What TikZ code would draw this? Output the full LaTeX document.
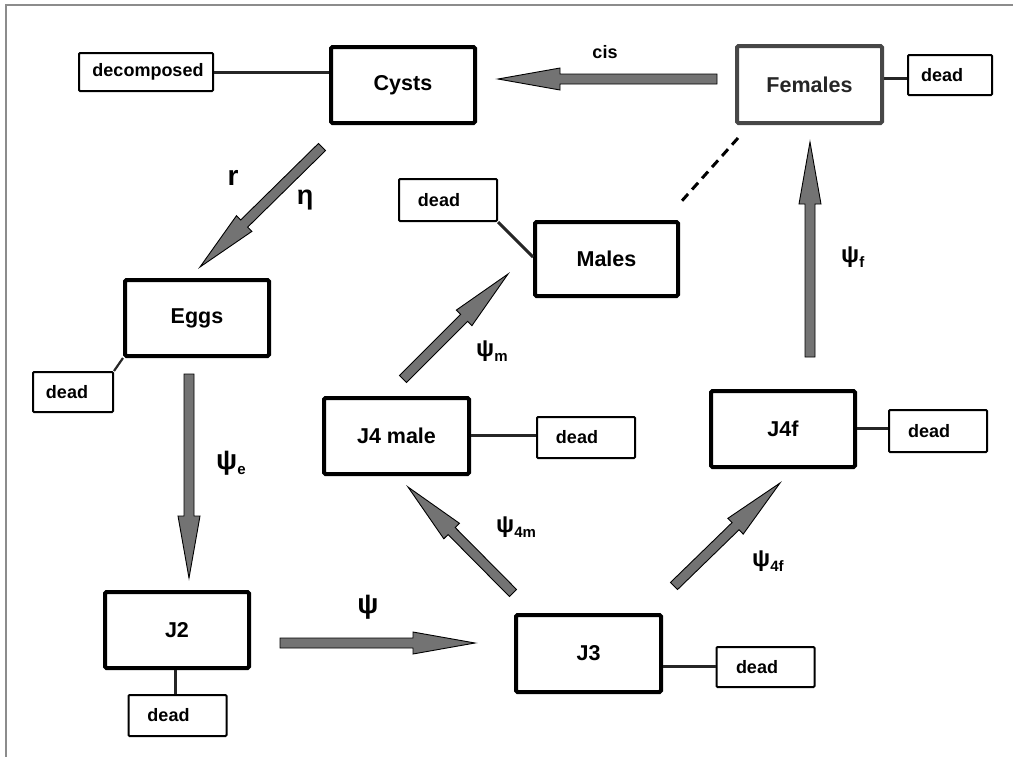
\documentclass[tikz,border=0pt]{standalone}
\usepackage{fontspec}
\setmainfont{Liberation Sans}
\usetikzlibrary{calc}
\tikzset{
  bigbox/.style={draw=black, line width=4pt, rounded corners=1.5pt, inner sep=0pt,
    minimum width=144pt, minimum height=76pt, font=\fontsize{21.5}{24}\selectfont\bfseries},
  smallbox/.style={draw=black, line width=2pt, rounded corners=1pt, inner sep=0pt,
    minimum width=98pt, minimum height=41pt, font=\fontsize{18}{20}\selectfont\bfseries},
  link/.style={draw=black!85, line width=3pt},
  arrowbody/.style={fill=black!55, draw=black, line width=0.9pt, line join=miter},
  lbl/.style={inner sep=0pt, font=\fontsize{24}{26}\selectfont\bfseries},
  biglbl/.style={inner sep=0pt, font=\fontsize{28}{30}\selectfont\bfseries},
}
\newcommand\sbs[1]{\raisebox{-5pt}{\fontsize{15}{15}\selectfont\bfseries #1}}
\newcommand\fatarr[2]{%
  \coordinate (fab) at ($(#2)!62pt!(#1)$);
  \filldraw[arrowbody] ($(#1)!5pt!90:(#2)$) -- ($(fab)!5pt!-90:(#1)$) -- ($(fab)!11pt!-90:(#1)$) -- (#2)
    -- ($(fab)!11pt!90:(#1)$) -- ($(fab)!5pt!90:(#1)$) -- ($(#1)!5pt!-90:(#2)$) -- cycle;}
\begin{document}
\begin{tikzpicture}[x=1pt, y=-1pt]
\useasboundingbox (0,0) rectangle (1013,756);
\fill[white] (0,0) rectangle (1013,756);
\draw[black!45, line width=1.5pt] (6,760) -- (6,5) -- (1017,5);

% main boxes
\node[bigbox] (cysts) at (403,85) {Cysts};
\node[bigbox, draw=black!72, text=black!85] (fem) at (809.5,84.5) [minimum width=145pt, minimum height=77pt] {Females};
\node[bigbox, minimum width=143pt, minimum height=74pt] (males) at (606.5,259) {Males};
\node[bigbox] (eggs) at (197,318) {Eggs};
\node[bigbox] (j2) at (177,630) {J2};
\node[bigbox, minimum width=145pt, minimum height=77pt] (j3) at (588.5,653.5) {J3};
\node[bigbox, minimum width=145pt] (j4m) at (396.5,436) {J4 male};
\node[bigbox] (j4f) at (783,429) {J4f};

% small boxes
\node[smallbox, minimum width=134pt, minimum height=38pt] (decomp) at (146,72) {\kern4pt decomposed};
\node[smallbox, minimum width=84pt, minimum height=40pt] (fdead) at (950,75) {\kern-16pt dead};
\node[smallbox, minimum height=42pt] (mdead) at (448,200) {\kern-18pt dead};
\node[smallbox, minimum width=80pt, minimum height=40pt] (edead) at (73,392) {\kern-12pt dead};
\node[smallbox] (j2dead) at (177.5,715.5) {\kern-18pt dead};
\node[smallbox, minimum height=40pt] (j3dead) at (765.5,667) {\kern-17pt dead};
\node[smallbox] (j4mdead) at (586,437.5) {\kern-18pt dead};
\node[smallbox, minimum height=42pt] (j4fdead) at (938,431) {\kern-18pt dead};

% links to side boxes
\draw[link] (decomp.east) -- (decomp.east -| cysts.west);
\draw[link] ([yshift=-3pt]fdead.west) -- ([yshift=-3pt]fdead.west -| fem.east);
\draw[link] (mdead.south east) -- ([yshift=2pt]males.west);
\draw[link, line width=2.2pt] (edead.north east) -- (eggs.south west);
\path (j2.south -| j2dead.north) ++(-2.5pt,0) coordinate (j2s);
\draw[link] (j2s) -- (j2s |- j2dead.north);
\draw[link] ([yshift=1pt]j3dead.west) -- ([yshift=1pt]j3dead.west -| j3.east);
\draw[link] ([yshift=2pt]j4mdead.west) -- ([yshift=2pt]j4mdead.west -| j4m.east);
\draw[link] ([yshift=3pt]j4fdead.west) -- ([yshift=3pt]j4fdead.west -| j4f.east);

% dashed link females - males
\coordinate (dA) at (738,138);
\coordinate (dB) at (680,203);
\draw[black, line width=3pt, dash pattern=on 9pt off 6pt] (dA) -- (dB);

% fat arrows
\coordinate (cisS) at (717,79);   \coordinate (cisT) at (498,79);
\coordinate (rS) at (322,147);    \coordinate (rT) at (200,267);
\coordinate (eS) at (189,374);    \coordinate (eT) at (189,578);
\coordinate (pS) at (280,643);    \coordinate (pT) at (475,643);
\coordinate (mS) at (403,379);    \coordinate (mT) at (508,274);
\coordinate (m4S) at (513,593);   \coordinate (m4T) at (408,487);
\coordinate (f4S) at (674,586);   \coordinate (f4T) at (780,483);
\coordinate (fS) at (810,357);    \coordinate (fT) at (810,142);
\fatarr{cisS}{cisT}
\fatarr{rS}{rT}
\fatarr{eS}{eT}
\fatarr{pS}{pT}
\fatarr{mS}{mT}
\fatarr{m4S}{m4T}
\fatarr{f4S}{f4T}
\fatarr{fS}{fT}

% labels
\node[inner sep=0pt, font=\fontsize{18}{20}\selectfont\bfseries] (cisl) at (605,52) {cis};
\node[lbl, font=\fontsize{28}{28}\selectfont\bfseries] (rl) at (233,178) {r};
\node[lbl, font=\fontsize{27}{28}\selectfont\bfseries] (etal) at (305,200) {η};
\node[biglbl, anchor=west] (psie) at (216,463) {ψ\sbs{e}};
\node[biglbl] (psi) at (368,607) {ψ};
\node[lbl, anchor=west] (psim) at (476,351) {ψ\sbs{m}};
\node[lbl, anchor=west] (psi4m) at (496,527) {ψ\sbs{4m}};
\node[lbl, anchor=west] (psi4f) at (752,561) {ψ\sbs{4f}};
\node[lbl, anchor=west] (psif) at (841,257) {ψ\sbs{f}};
\end{tikzpicture}
\end{document}
